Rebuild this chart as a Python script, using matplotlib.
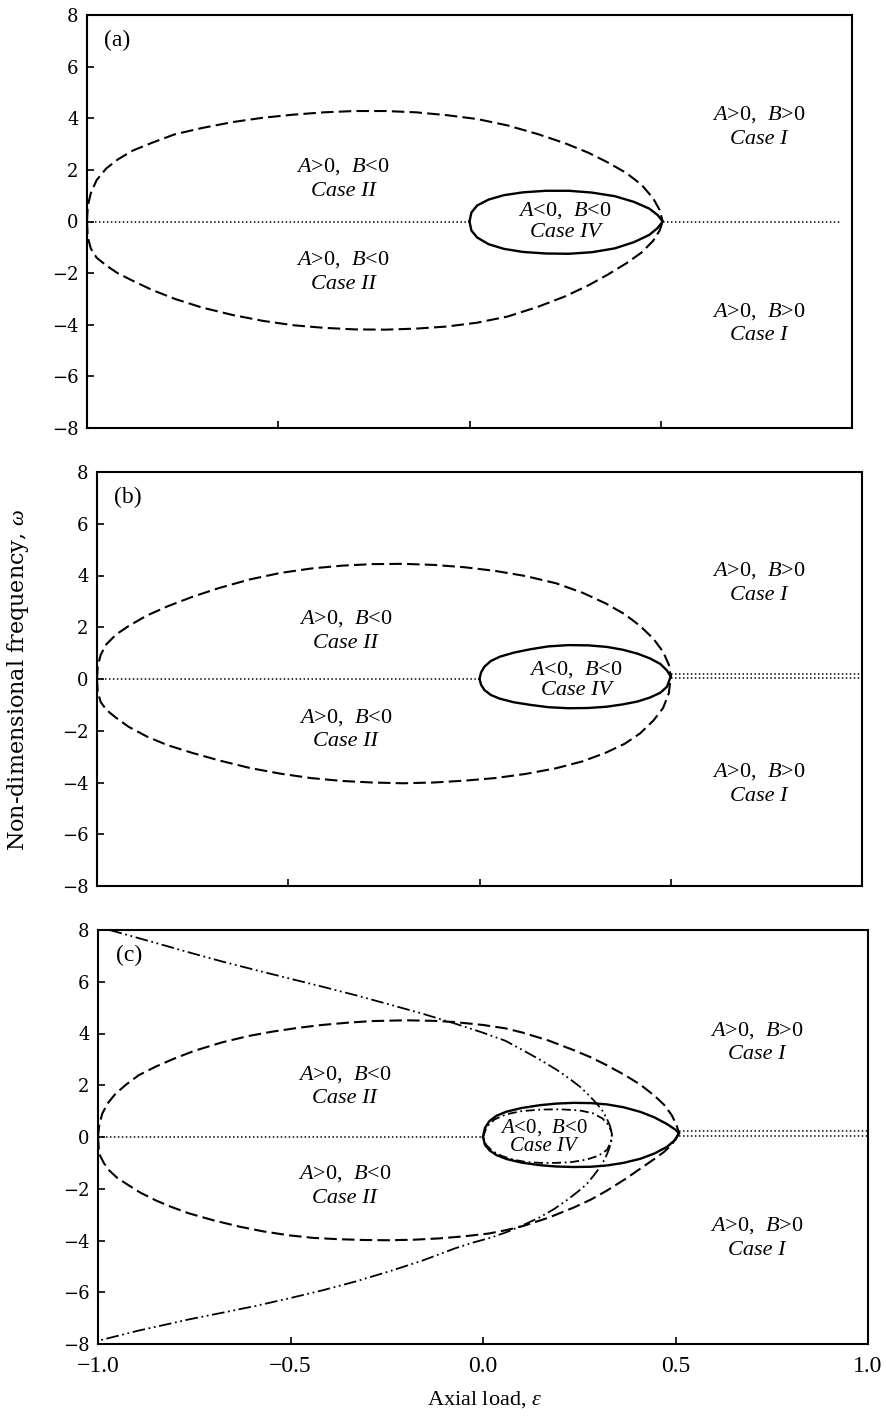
import matplotlib
matplotlib.use("Agg")
import matplotlib.pyplot as plt

plt.rcParams['font.family'] = ['Liberation Serif', 'DejaVu Serif']
plt.rcParams['mathtext.fontset'] = 'custom'
plt.rcParams['mathtext.rm'] = 'Liberation Serif'
plt.rcParams['mathtext.it'] = 'Liberation Serif:italic'

# ---- panel (a) ----
a_dash_up_x = [-1.0, -0.998, -0.99, -0.975, -0.95, -0.92, -0.88, -0.83, -0.77, -0.7, -0.62, -0.54, -0.46, -0.38, -0.3, -0.22, -0.14, -0.06, 0.02, 0.1, 0.18, 0.25, 0.31, 0.36, 0.41, 0.45, 0.48, 0.497, 0.505]
a_dash_up_y = [0.0, 0.6, 1.1, 1.6, 2.05, 2.4, 2.75, 3.05, 3.38, 3.62, 3.85, 4.02, 4.14, 4.23, 4.28, 4.28, 4.23, 4.12, 3.97, 3.72, 3.38, 3.03, 2.67, 2.3, 1.88, 1.42, 0.9, 0.45, 0.0]
a_dash_lo_x = [-1.0, -0.998, -0.99, -0.975, -0.95, -0.92, -0.88, -0.83, -0.77, -0.7, -0.62, -0.54, -0.46, -0.38, -0.3, -0.22, -0.14, -0.06, 0.02, 0.1, 0.18, 0.25, 0.31, 0.36, 0.41, 0.45, 0.48, 0.497, 0.505]
a_dash_lo_y = [0.0, -0.6, -1.05, -1.4, -1.7, -2.0, -2.3, -2.65, -3.0, -3.33, -3.62, -3.85, -4.02, -4.12, -4.18, -4.19, -4.15, -4.07, -3.92, -3.68, -3.3, -2.9, -2.48, -2.07, -1.62, -1.2, -0.75, -0.35, 0.0]
a_solid_up_x = [0.0, 0.005, 0.02, 0.05, 0.09, 0.14, 0.2, 0.26, 0.32, 0.38, 0.43, 0.47, 0.492, 0.505]
a_solid_up_y = [0.0, 0.35, 0.62, 0.85, 1.02, 1.13, 1.19, 1.19, 1.12, 0.98, 0.76, 0.5, 0.25, 0.0]
a_solid_lo_x = [0.0, 0.005, 0.02, 0.05, 0.09, 0.14, 0.2, 0.26, 0.32, 0.38, 0.43, 0.47, 0.492, 0.505]
a_solid_lo_y = [0.0, -0.35, -0.62, -0.88, -1.06, -1.18, -1.24, -1.25, -1.19, -1.04, -0.8, -0.52, -0.25, 0.0]

# ---- panel (b) ----
b_dash_up_x = [-1.0, -0.998, -0.99, -0.975, -0.95, -0.917, -0.87, -0.817, -0.75, -0.68, -0.6, -0.52, -0.44, -0.36, -0.28, -0.2, -0.12, -0.04, 0.04, 0.12, 0.2, 0.27, 0.33, 0.38, 0.42, 0.455, 0.48, 0.495, 0.5]
b_dash_up_y = [0.0, 0.5, 0.95, 1.35, 1.72, 2.05, 2.45, 2.8, 3.18, 3.52, 3.85, 4.1, 4.27, 4.38, 4.44, 4.45, 4.41, 4.32, 4.18, 3.98, 3.7, 3.33, 2.92, 2.5, 2.05, 1.55, 1.05, 0.55, 0.1]
b_dash_lo_x = [-1.0, -0.998, -0.99, -0.975, -0.95, -0.917, -0.87, -0.817, -0.75, -0.68, -0.6, -0.52, -0.44, -0.36, -0.28, -0.2, -0.12, -0.04, 0.04, 0.12, 0.2, 0.27, 0.33, 0.38, 0.42, 0.455, 0.48, 0.495, 0.5]
b_dash_lo_y = [0.0, -0.5, -0.9, -1.2, -1.5, -1.85, -2.22, -2.55, -2.86, -3.15, -3.44, -3.66, -3.83, -3.94, -4.0, -4.03, -4.0, -3.93, -3.83, -3.67, -3.45, -3.18, -2.85, -2.5, -2.1, -1.6, -1.12, -0.55, 0.1]
b_solid_up_x = [0.0, 0.004, 0.013, 0.03, 0.053, 0.09, 0.133, 0.18, 0.233, 0.285, 0.333, 0.375, 0.413, 0.445, 0.473, 0.49, 0.5]
b_solid_up_y = [0.0, 0.25, 0.48, 0.7, 0.86, 1.02, 1.15, 1.26, 1.31, 1.3, 1.24, 1.13, 0.98, 0.8, 0.58, 0.33, 0.1]
b_solid_lo_x = [0.0, 0.004, 0.013, 0.03, 0.053, 0.09, 0.133, 0.18, 0.233, 0.285, 0.333, 0.375, 0.413, 0.445, 0.473, 0.49, 0.5]
b_solid_lo_y = [0.0, -0.22, -0.43, -0.62, -0.76, -0.9, -1.0, -1.09, -1.13, -1.12, -1.07, -0.98, -0.87, -0.72, -0.53, -0.3, 0.1]

# ---- panel (c) ----
c_dash_up_x = [-1.0, -0.997, -0.989, -0.975, -0.954, -0.925, -0.894, -0.85, -0.807, -0.75, -0.677, -0.61, -0.548, -0.48, -0.418, -0.35, -0.288, -0.202, -0.13, -0.072, 0.0, 0.058, 0.104, 0.17, 0.235, 0.28, 0.322, 0.37, 0.409, 0.445, 0.47, 0.49, 0.503, 0.509]
c_dash_up_y = [0.0, 0.45, 0.9, 1.3, 1.68, 2.05, 2.39, 2.72, 3.0, 3.33, 3.66, 3.9, 4.07, 4.22, 4.33, 4.42, 4.48, 4.51, 4.49, 4.44, 4.33, 4.2, 4.03, 3.73, 3.36, 3.08, 2.77, 2.38, 2.02, 1.6, 1.25, 0.85, 0.45, 0.15]
c_dash_lo_x = [-1.0, -0.997, -0.985, -0.971, -0.95, -0.92, -0.89, -0.85, -0.81, -0.764, -0.7, -0.634, -0.57, -0.504, -0.44, -0.375, -0.31, -0.245, -0.18, -0.115, -0.05, 0.015, 0.06, 0.104, 0.17, 0.235, 0.28, 0.322, 0.37, 0.409, 0.445, 0.47, 0.49, 0.509]
c_dash_lo_y = [0.0, -0.65, -1.0, -1.29, -1.58, -1.87, -2.15, -2.45, -2.7, -2.95, -3.22, -3.46, -3.65, -3.8, -3.9, -3.95, -3.98, -3.99, -3.97, -3.92, -3.84, -3.73, -3.6, -3.44, -3.12, -2.73, -2.42, -2.07, -1.62, -1.22, -0.85, -0.58, -0.3, 0.15]
c_solid_up_x = [0.0, 0.005, 0.017, 0.035, 0.061, 0.1, 0.148, 0.19, 0.235, 0.28, 0.322, 0.365, 0.409, 0.445, 0.478, 0.5, 0.509]
c_solid_up_y = [0.0, 0.35, 0.62, 0.82, 0.98, 1.12, 1.23, 1.29, 1.32, 1.31, 1.26, 1.15, 0.97, 0.76, 0.5, 0.28, 0.15]
c_solid_lo_x = [0.0, 0.005, 0.017, 0.035, 0.061, 0.1, 0.148, 0.19, 0.235, 0.28, 0.322, 0.365, 0.409, 0.445, 0.478, 0.5, 0.509]
c_solid_lo_y = [0.0, -0.3, -0.52, -0.7, -0.85, -0.99, -1.09, -1.14, -1.16, -1.15, -1.1, -1.0, -0.84, -0.64, -0.38, -0.1, 0.15]
c_dashdot_x = [0.0, 0.01, 0.03, 0.061, 0.1, 0.15, 0.2, 0.25, 0.285, 0.31, 0.327, 0.335, 0.332, 0.322, 0.3, 0.27, 0.23, 0.19, 0.15, 0.113, 0.08, 0.05, 0.025, 0.008, 0.0]
c_dashdot_y = [0.0, 0.4, 0.68, 0.88, 1.0, 1.06, 1.07, 1.03, 0.92, 0.72, 0.45, 0.13, -0.2, -0.5, -0.72, -0.87, -0.97, -1.0, -1.0, -0.97, -0.88, -0.74, -0.55, -0.3, 0.0]
c_para_x = [-0.97, -0.91, -0.85, -0.76, -0.677, -0.59, -0.504, -0.42, -0.331, -0.245, -0.158, -0.072, 0.0, 0.058, 0.104, 0.15, 0.191, 0.225, 0.252, 0.276, 0.296, 0.312, 0.322, 0.33, 0.335,
            0.333, 0.326, 0.317, 0.304, 0.288, 0.27, 0.245, 0.217, 0.185, 0.148, 0.105, 0.061, 0.018, -0.026, -0.072, -0.158, -0.245, -0.33, -0.418, -0.505, -0.591, -0.68, -0.764, -0.83, -0.894, -0.993]
c_para_y = [8.0, 7.75, 7.5, 7.12, 6.78, 6.45, 6.13, 5.82, 5.48, 5.13, 4.77, 4.38, 4.03, 3.72, 3.35, 2.97, 2.6, 2.25, 1.94, 1.6, 1.28, 0.98, 0.7, 0.42, 0.13,
            -0.2, -0.52, -0.84, -1.16, -1.48, -1.81, -2.13, -2.45, -2.78, -3.1, -3.4, -3.68, -3.9, -4.08, -4.3, -4.78, -5.2, -5.58, -5.93, -6.24, -6.53, -6.8, -7.05, -7.27, -7.48, -7.85]

# dotted zero lines: (x start, x end, y)
a_dots = [(-1.0, 0.0, 0.0), (0.505, 0.97, 0.0)]
b_dots = [(-1.0, 0.0, 0.0), (0.5, 1.0, 0.03), (0.5, 1.0, 0.2)]
c_dots = [(-1.0, 0.0, 0.0), (0.509, 1.0, 0.05), (0.509, 1.0, 0.22)]

region_text = {
    'II': (r"$\mathit{A}$>0,  $\mathit{B}$<0", "Case II"),
    'I': (r"$\mathit{A}$>0,  $\mathit{B}$>0", "Case I"),
    'IV': (r"$\mathit{A}$<0,  $\mathit{B}$<0", "Case IV"),
}

x_ticks = [-1.0, -0.5, 0.0, 0.5, 1.0]
x_ticklabels = ["\u22121.0", "\u22120.5", "0.0", "0.5", "1.0"]
y_ticks = [-8, -6, -4, -2, 0, 2, 4, 6, 8]
y_ticklabels = ["\u22128", "\u22126", "\u22124", "\u22122", "0", "2", "4", "6", "8"]

W, H = 886, 1418
fig = plt.figure(figsize=(W / 100, H / 100), dpi=100)


def axes_px(l, r, t, b):
    return fig.add_axes([l / W, 1 - b / H, (r - l) / W, (b - t) / H])


ax_a = axes_px(87, 852, 15, 428)
ax_b = axes_px(97, 862, 472, 886)
ax_c = axes_px(98, 868, 930, 1344)

DASH = (0, (6, 2.5))
DOT = (0, (1, 1.6))
TS = 16


def label(ax, x, y, key, size=TS, gap=0.95):
    top, bot = region_text[key]
    ax.text(x, y + gap / 2, top, ha='center', va='center', fontsize=size)
    ax.text(x, y - gap / 2, bot, ha='center', va='center', fontsize=size, style='italic')


def setup(ax, letter, show_x):
    ax.set_xlim(-1, 1)
    ax.set_ylim(-8, 8)
    for s in ax.spines.values():
        s.set_linewidth(1.5)
    ax.set_xticks(x_ticks)
    ax.set_yticks(y_ticks)
    ax.set_yticklabels(y_ticklabels, fontfamily='DejaVu Serif', fontsize=13)
    if show_x:
        ax.set_xticklabels(x_ticklabels, fontsize=17)
        ax.tick_params(axis='x', pad=9)
    else:
        ax.set_xticklabels([])
    ax.tick_params(direction='in', length=5, width=1.2)
    ax.tick_params(axis='y', pad=6)
    ax.text(-0.92, 7.0, letter, ha='center', va='center', fontsize=17)


def dotted(ax, segs):
    for x0, x1, y in segs:
        ax.plot([x0, x1], [y, y], color='black', lw=1.1, ls=DOT)


# (a)
setup(ax_a, '(a)', False)
dotted(ax_a, a_dots)
ax_a.plot(a_dash_up_x, a_dash_up_y, color='black', lw=1.5, ls=DASH)
ax_a.plot(a_dash_lo_x, a_dash_lo_y, color='black', lw=1.5, ls=DASH)
ax_a.plot(a_solid_up_x, a_solid_up_y, color='black', lw=1.7)
ax_a.plot(a_solid_lo_x, a_solid_lo_y, color='black', lw=1.7)
label(ax_a, -0.33, 1.65, 'II')
label(ax_a, -0.33, -1.95, 'II')
label(ax_a, 0.25, 0.0, 'IV', gap=0.85)
label(ax_a, 0.755, 3.65, 'I')
label(ax_a, 0.755, -3.95, 'I')

# (b)
setup(ax_b, '(b)', False)
dotted(ax_b, b_dots)
ax_b.plot(b_dash_up_x, b_dash_up_y, color='black', lw=1.5, ls=DASH)
ax_b.plot(b_dash_lo_x, b_dash_lo_y, color='black', lw=1.5, ls=DASH)
ax_b.plot(b_solid_up_x, b_solid_up_y, color='black', lw=1.7)
ax_b.plot(b_solid_lo_x, b_solid_lo_y, color='black', lw=1.7)
label(ax_b, -0.35, 1.85, 'II')
label(ax_b, -0.35, -1.95, 'II')
label(ax_b, 0.253, -0.05, 'IV', gap=0.8)
label(ax_b, 0.73, 3.7, 'I')
label(ax_b, 0.73, -4.05, 'I')

# (c)
setup(ax_c, '(c)', True)
dotted(ax_c, c_dots)
ax_c.plot(c_dash_up_x, c_dash_up_y, color='black', lw=1.5, ls=DASH)
ax_c.plot(c_dash_lo_x, c_dash_lo_y, color='black', lw=1.5, ls=DASH)
ax_c.plot(c_solid_up_x, c_solid_up_y, color='black', lw=1.7)
ax_c.plot(c_solid_lo_x, c_solid_lo_y, color='black', lw=1.7)
ax_c.plot(c_dashdot_x, c_dashdot_y, color='black', lw=1.3, ls=(0, (5, 2, 1, 2)))
ax_c.plot(c_para_x, c_para_y, color='black', lw=1.3, ls=(0, (7, 2, 1, 2, 1, 2)))
label(ax_c, -0.36, 1.95, 'II')
label(ax_c, -0.36, -1.9, 'II')
label(ax_c, 0.157, 0.0, 'IV', size=15, gap=0.75)
label(ax_c, 0.71, 3.65, 'I')
label(ax_c, 0.71, -3.9, 'I')

fig.text(18 / W, 1 - 680 / H, r"Non-dimensional frequency, $\omega$", rotation=90,
         ha='center', va='center', fontsize=16, family='DejaVu Serif')
fig.text(485 / W, 1 - 1400 / H, r"Axial load, $\varepsilon$", ha='center', va='center', fontsize=16)

fig.savefig('out.png', dpi=100)
